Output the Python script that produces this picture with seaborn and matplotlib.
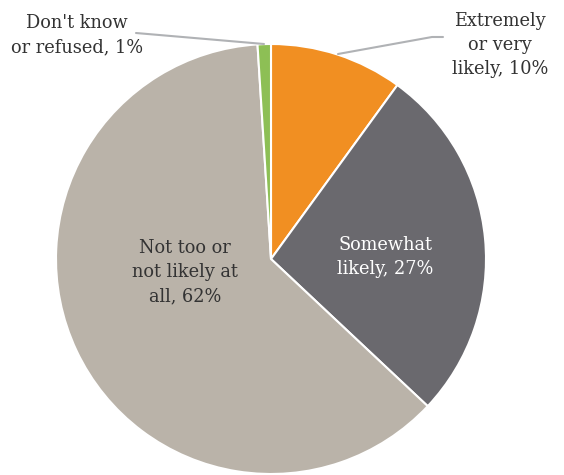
import matplotlib
matplotlib.use("Agg")
import matplotlib.pyplot as plt
import seaborn as sns

sns.set_theme(style="white")
plt.rcParams['font.family'] = ['DejaVu Serif']

categories = ["Extremely\nor very\nlikely, 10%", "Somewhat\nlikely, 27%",
              "Not too or\nnot likely at\nall, 62%", "Don't know\nor refused, 1%"]
values = [10, 27, 62, 1]
colors = ["#F18F22", "#6A696E", "#BAB3A9", "#8DBF55"]

fig = plt.figure(figsize=(5.64, 4.75), dpi=100)
ax = fig.add_axes([0, 0, 1, 1])
ax.set_xlim(0, 564)
ax.set_ylim(0, 475)
ax.set_aspect('equal')
ax.axis('off')

cx, cy, r = 271, 475 - 259, 215
ax.pie(values, colors=colors, startangle=90, counterclock=False,
       center=(cx, cy), radius=r,
       wedgeprops=dict(edgecolor="white", linewidth=1.5))
ax.set_xlim(0, 564)
ax.set_ylim(0, 475)

fs = 12.8
ls = 1.42
# inside labels
ax.text(385, 475 - 257, categories[1], ha='center', va='center', fontsize=fs,
        color='white', linespacing=ls)
ax.text(185, 475 - 272, categories[2], ha='center', va='center', fontsize=fs,
        color='#333333', linespacing=ls)
# outside labels
ax.text(500, 475 - 45, categories[0], ha='center', va='center', fontsize=fs,
        color='#333333', linespacing=ls)
ax.text(77, 475 - 35, categories[3], ha='center', va='center', fontsize=fs,
        color='#333333', linespacing=ls)

# leader lines
ax.plot([338, 432, 443], [475 - 54, 475 - 37, 475 - 37], color="#B0B2B5", lw=1.5)
ax.plot([136, 264], [475 - 33, 475 - 44], color="#B0B2B5", lw=1.5)

fig.savefig("out.png", dpi=100)
